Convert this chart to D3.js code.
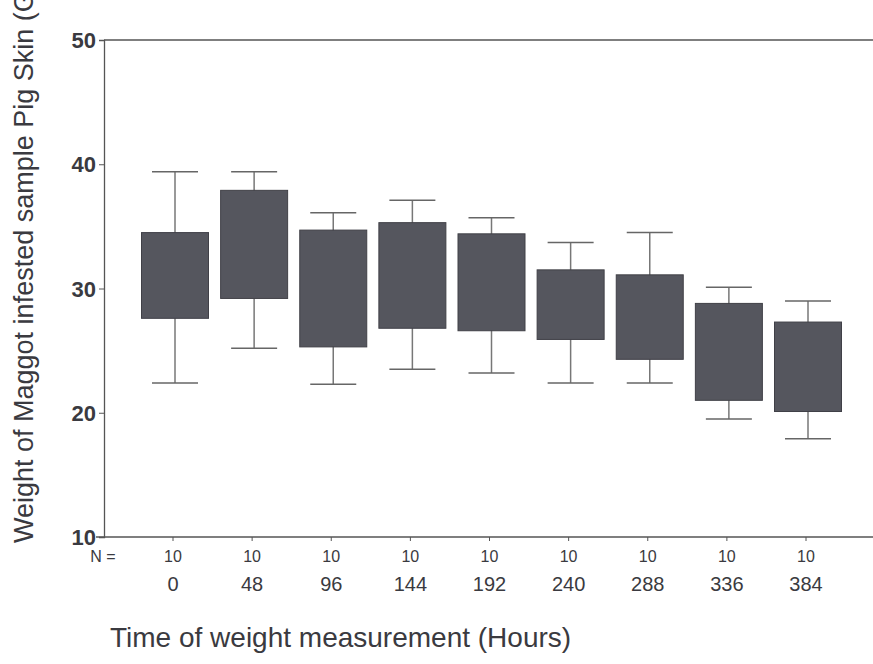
<!DOCTYPE html>
<html lang="en">
<head>
    <meta charset="UTF-8">
    <title>Maggot infested pig skin weight</title>
    <style>
        body {
            margin: 0;
            background: #fff;
            font-family: Arial, "Liberation Sans", sans-serif;
        }
    </style>
</head>
<body>
    <div id="chart"></div>
    <script src="https://d3js.org/d3.v7.min.js"></script>
    <script>
        // hours of measurement and sample size per group
        const hours = ["0", "48", "96", "144", "192", "240", "288", "336", "384"];
        const counts = [10, 10, 10, 10, 10, 10, 10, 10, 10];
        // box plot stats (grams)
        const whiskerHigh = [39.4, 39.4, 36.1, 37.1, 35.7, 33.7, 34.5, 30.1, 29.0];
        const boxHigh = [34.5, 37.9, 34.7, 35.3, 34.4, 31.5, 31.1, 28.8, 27.3];
        const boxLow = [27.6, 29.2, 25.3, 26.8, 26.6, 25.9, 24.3, 21.0, 20.1];
        const whiskerLow = [22.4, 25.2, 22.3, 23.5, 23.2, 22.4, 22.4, 19.5, 17.9];
        const yTicks = [10, 20, 30, 40, 50];

        const width = 873;
        const height = 664;
        const plotLeft = 104, plotTop = 40, plotBottom = 537;

        const svg = d3.select("#chart").append("svg")
            .attr("width", width)
            .attr("height", height);

        const x = d3.scalePoint().domain(hours).range([175, 808]);
        const y = d3.scaleLinear().domain([10, 50]).range([plotBottom, plotTop]);

        const boxW = 67, capW = 46;
        const ink = "#3a3a40";

        const groups = hours.map((h, i) => ({
            h, n: counts[i],
            hi: whiskerHigh[i], q3: boxHigh[i], q1: boxLow[i], lo: whiskerLow[i]
        }));

        // frame lines
        svg.append("line")
            .attr("x1", plotLeft).attr("x2", width).attr("y1", plotTop).attr("y2", plotTop)
            .attr("stroke", "#555").attr("stroke-width", 1.3);
        svg.append("line")
            .attr("x1", 96).attr("x2", width).attr("y1", plotBottom).attr("y2", plotBottom)
            .attr("stroke", "#555").attr("stroke-width", 1.3);

        // y axis
        const yAxis = svg.append("g")
            .attr("transform", `translate(${plotLeft},0)`)
            .call(d3.axisLeft(y).tickValues(yTicks).tickSize(5).tickPadding(3).tickFormat(d3.format("d")));
        yAxis.select(".domain").attr("stroke", "#555").attr("stroke-width", 1.3);
        yAxis.selectAll(".tick line").attr("stroke", "#555");
        yAxis.selectAll(".tick text")
            .attr("fill", ink)
            .style("font-size", "22px")
            .style("font-weight", "bold")
            .attr("dy", "0.35em");

        // x ticks
        svg.selectAll(".xtick")
            .data(groups)
            .enter().append("line")
            .attr("x1", d => x(d.h) - 2).attr("x2", d => x(d.h) - 2)
            .attr("y1", plotBottom).attr("y2", plotBottom + 4)
            .attr("stroke", "#555");

        // whiskers
        svg.selectAll(".whisker")
            .data(groups)
            .enter().append("line")
            .attr("x1", d => x(d.h)).attr("x2", d => x(d.h))
            .attr("y1", d => y(d.hi)).attr("y2", d => y(d.lo))
            .attr("stroke", "#777").attr("stroke-width", 1.5);

        svg.selectAll(".capTop")
            .data(groups)
            .enter().append("line")
            .attr("x1", d => x(d.h) - capW / 2).attr("x2", d => x(d.h) + capW / 2)
            .attr("y1", d => y(d.hi)).attr("y2", d => y(d.hi))
            .attr("stroke", "#666").attr("stroke-width", 1.5);

        svg.selectAll(".capBottom")
            .data(groups)
            .enter().append("line")
            .attr("x1", d => x(d.h) - capW / 2).attr("x2", d => x(d.h) + capW / 2)
            .attr("y1", d => y(d.lo)).attr("y2", d => y(d.lo))
            .attr("stroke", "#666").attr("stroke-width", 1.5);

        // boxes
        svg.selectAll(".box")
            .data(groups)
            .enter().append("rect")
            .attr("x", d => x(d.h) - boxW / 2)
            .attr("y", d => y(d.q3))
            .attr("width", boxW)
            .attr("height", d => y(d.q1) - y(d.q3))
            .attr("fill", "#55565e")
            .attr("stroke", "#404047")
            .attr("stroke-width", 1);

        // N = row
        svg.append("text")
            .attr("x", 103).attr("y", 562)
            .attr("text-anchor", "middle")
            .attr("fill", ink)
            .style("font-size", "16px")
            .text("N =");

        svg.selectAll(".count")
            .data(groups)
            .enter().append("text")
            .attr("x", d => x(d.h) - 2).attr("y", 562)
            .attr("text-anchor", "middle")
            .attr("fill", ink)
            .style("font-size", "16px")
            .text(d => d.n);

        svg.selectAll(".hour")
            .data(groups)
            .enter().append("text")
            .attr("x", d => x(d.h) - 2).attr("y", 591)
            .attr("text-anchor", "middle")
            .attr("fill", ink)
            .style("font-size", "20px")
            .text(d => d.h);

        // axis titles
        svg.append("text")
            .attr("x", 110).attr("y", 647)
            .attr("fill", ink)
            .style("font-size", "28px")
            .text("Time of weight measurement (Hours)");

        // the scan cuts this title off at the top edge
        svg.append("text")
            .attr("transform", "translate(33,543) rotate(-90)")
            .attr("fill", ink)
            .style("font-size", "27px")
            .text("Weight of Maggot infested sample Pig Skin (G");
    </script>
</body>
</html>
